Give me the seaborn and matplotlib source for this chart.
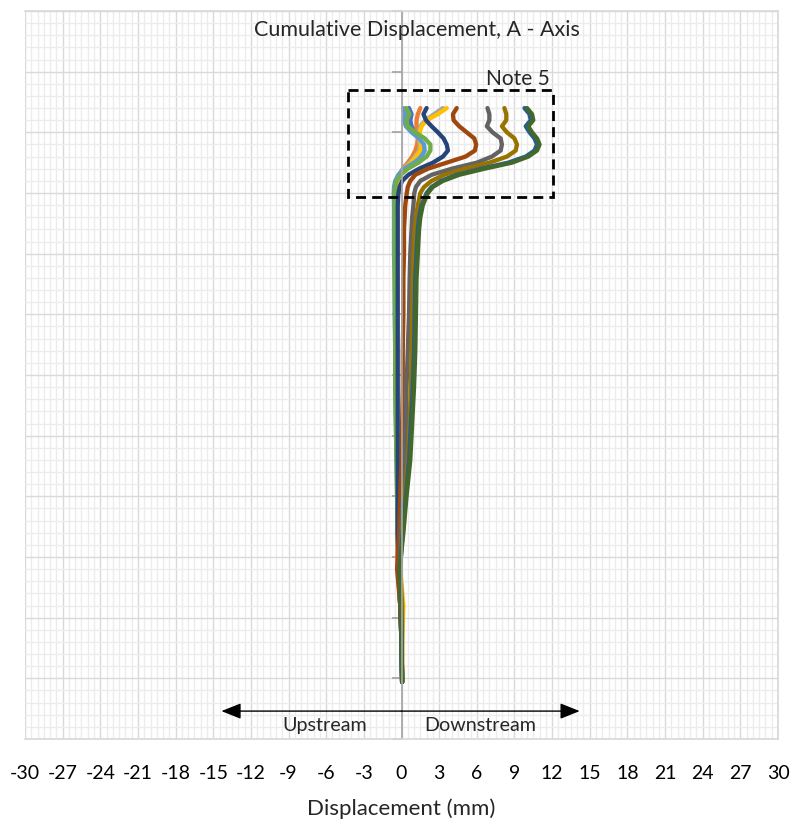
import numpy as np
import pandas as pd
import matplotlib
matplotlib.use('Agg')
import matplotlib.pyplot as plt
from matplotlib.ticker import MultipleLocator
from matplotlib.patches import Rectangle
import seaborn as sns

# depth of reading (axis has no labels in the original)
depth = [8, 8.5, 9, 9.5, 10, 10.5, 11, 11.5, 12, 12.5, 13, 13.5, 14, 14.5, 15,
         16, 17, 18, 20, 22, 25, 28, 31, 34, 37, 40, 43, 46, 49, 52, 55.3]

# cumulative displacement (mm) per reading
r01 = [0.6, 0.8, 0.7, 0.8, 1.1, 1.4, 1.6, 1.6, 1.4, 0.9, 0.3, -0.15, -0.4, -0.5, -0.55,
       -0.55, -0.55, -0.55, -0.5, -0.5, -0.5, -0.45, -0.45, -0.4, -0.35, -0.3, -0.3, -0.2, -0.1, 0.0, 0.05]
r02 = [1.5, 1.3, 1.2, 1.2, 1.25, 1.3, 1.25, 1.1, 0.85, 0.5, 0.1, -0.2, -0.45, -0.55, -0.58,
       -0.55, -0.55, -0.5, -0.5, -0.5, -0.45, -0.45, -0.4, -0.4, -0.35, -0.3, -0.35, -0.3, -0.1, 0.0, 0.05]
r03 = [3.3, 2.6, 1.9, 1.5, 1.35, 1.35, 1.45, 1.4, 1.05, 0.65, 0.15, -0.15, -0.38, -0.48, -0.52,
       -0.5, -0.5, -0.5, -0.5, -0.5, -0.45, -0.45, -0.45, -0.4, -0.35, -0.3, -0.3, -0.25, -0.1, 0.0, 0.05]
r04 = [3.6, 2.9, 2.0, 1.6, 1.45, 1.45, 1.55, 1.5, 1.15, 0.75, 0.2, -0.1, -0.35, -0.45, -0.5,
       -0.5, -0.5, -0.5, -0.5, -0.45, -0.45, -0.45, -0.4, -0.4, -0.35, -0.3, -0.25, -0.1, 0.15, 0.05, 0.05]
r05 = [0.15, 0.3, 0.2, 0.35, 0.8, 1.4, 1.8, 1.85, 1.6, 1.0, 0.2, -0.25, -0.5, -0.6, -0.62,
       -0.6, -0.6, -0.6, -0.6, -0.55, -0.55, -0.5, -0.5, -0.45, -0.4, -0.35, -0.3, -0.25, -0.1, 0.0, 0.05]
r06 = [0.37, 0.64, 0.4, 0.48, 1.1, 1.85, 2.3, 2.3, 2.0, 1.35, 0.5, -0.05, -0.4, -0.5, -0.56,
       -0.55, -0.55, -0.55, -0.55, -0.55, -0.5, -0.5, -0.5, -0.45, -0.4, -0.35, -0.3, -0.25, -0.1, 0.0, 0.05]
r07 = [2.0, 1.75, 1.95, 2.4, 2.9, 3.35, 3.6, 3.7, 3.3, 2.5, 1.4, 0.55, 0.05, -0.15, -0.25,
       -0.3, -0.3, -0.3, -0.3, -0.3, -0.3, -0.3, -0.3, -0.3, -0.3, -0.3, -0.3, -0.2, -0.1, 0.0, 0.05]
r08 = [4.4, 4.1, 4.15, 4.6, 5.2, 5.8, 5.95, 5.85, 5.1, 3.6, 2.1, 1.1, 0.7, 0.5, 0.42,
       0.3, 0.25, 0.2, 0.2, 0.15, 0.15, 0.1, 0.1, 0.05, 0.0, -0.1, -0.2, -0.35, -0.1, 0.0, 0.05]
r09 = [6.85, 7.0, 7.0, 6.8, 7.25, 7.9, 8.0, 7.9, 7.2, 6.0, 4.0, 2.4, 1.5, 1.15, 1.02,
       0.95, 0.85, 0.8, 0.7, 0.65, 0.6, 0.5, 0.4, 0.35, 0.25, 0.1, -0.05, -0.15, -0.05, 0.0, 0.05]
r10 = [8.2, 8.35, 8.35, 8.0, 8.4, 9.0, 9.2, 9.1, 8.4, 7.0, 5.0, 3.4, 2.4, 1.8, 1.5,
       1.3, 1.15, 1.05, 0.95, 0.9, 0.85, 0.8, 0.75, 0.65, 0.5, 0.25, 0.05, -0.1, 0.05, 0.05, 0.05]
r11 = [9.8, 10.2, 10.3, 9.9, 10.2, 10.6, 10.8, 10.6, 9.9, 8.5, 6.3, 4.4, 3.15, 2.4, 2.0,
       1.6, 1.4, 1.3, 1.2, 1.1, 1.05, 1.0, 0.9, 0.75, 0.6, 0.35, 0.1, -0.15, -0.05, 0.0, 0.05]
r12 = [10.0, 10.4, 10.5, 10.1, 10.4, 10.8, 11.0, 10.8, 10.1, 8.8, 6.6, 4.6, 3.3, 2.5, 2.1,
       1.7, 1.5, 1.4, 1.3, 1.2, 1.15, 1.1, 1.0, 0.85, 0.7, 0.4, 0.15, -0.15, -0.05, 0.0, 0.05]

readings = [r01, r02, r03, r04, r05, r06, r07, r08, r09, r10, r11, r12]
names = ['Reading %d' % (i + 1) for i in range(len(readings))]
colors = ['#4472C4', '#ED7D31', '#A5A5A5', '#FFC000', '#5B9BD5', '#70AD47',
          '#264478', '#9E480E', '#636363', '#997300', '#255E91', '#43682B']

xticks = list(range(-30, 31, 3))

rows = []
for name, vals in zip(names, readings):
    for d, v in zip(depth, vals):
        rows.append((name, d, v))
df = pd.DataFrame(rows, columns=['reading', 'depth', 'disp'])

sns.set_theme(style='white')
plt.rcParams['font.family'] = ['Lato', 'DejaVu Sans']
plt.rcParams['axes.unicode_minus'] = False

fig = plt.figure(figsize=(8.01, 8.20), dpi=100)
ax = fig.add_axes([25 / 801, 80 / 820, 753 / 801, 728 / 820])

sns.lineplot(data=df, x='disp', y='depth', hue='reading', hue_order=names,
             palette=colors, sort=False, estimator=None, legend=False,
             linewidth=3.1, ax=ax, solid_joinstyle='round', solid_capstyle='round')

ax.set_xlim(-30, 30)
ax.set_ylim(60, 0)
ax.set_xticks(xticks)
ax.set_xticklabels([str(t) for t in xticks])
ax.xaxis.set_minor_locator(MultipleLocator(0.5))
ax.yaxis.set_major_locator(MultipleLocator(5))
ax.yaxis.set_minor_locator(MultipleLocator(1))
ax.set_axisbelow(True)
ax.grid(which='major', color='#D9D9D9', lw=1.0)
ax.grid(which='minor', color='#ECECEC', lw=1.0)

for s in ['top', 'right', 'bottom']:
    ax.spines[s].set_color('#D9D9D9')
ax.spines['left'].set_position(('data', 0))
ax.spines['left'].set_color('#A6A6A6')
ax.tick_params(axis='y', which='major', left=True, length=7, color='#A6A6A6',
               labelleft=False, direction='out')
ax.tick_params(axis='y', which='minor', length=0)
ax.tick_params(axis='x', which='both', length=0, pad=18, labelsize=14, colors='black')
ax.set_xlabel('Displacement (mm)', fontsize=16, labelpad=12)
ax.set_ylabel('')

# note box
ax.add_patch(Rectangle((-4.3, 6.5), 16.4, 8.8, fill=False, ec='black', lw=2.0,
                       ls=(0, (3.6, 2.2)), zorder=5))
ax.text(9.25, 5.5, 'Note 5', ha='center', va='center', fontsize=15)

fig.text(417 / 801, 1 - 30 / 820, 'Cumulative Displacement, A - Axis',
         ha='center', va='center', fontsize=15.5)

# direction arrows
ax.annotate('', xy=(-14.35, 57.7), xytext=(0, 57.7),
            arrowprops=dict(arrowstyle='-|>,head_length=1.0,head_width=0.4',
                            mutation_scale=12, color='black', lw=1,
                            shrinkA=0, shrinkB=0))
ax.annotate('', xy=(14.2, 57.7), xytext=(0, 57.7),
            arrowprops=dict(arrowstyle='-|>,head_length=1.0,head_width=0.4',
                            mutation_scale=12, color='black', lw=1,
                            shrinkA=0, shrinkB=0))
ax.text(-6.1, 58.8, 'Upstream', ha='center', va='center', fontsize=14.2)
ax.text(6.3, 58.8, 'Downstream', ha='center', va='center', fontsize=14.2)

fig.savefig('out.png', dpi=100)
